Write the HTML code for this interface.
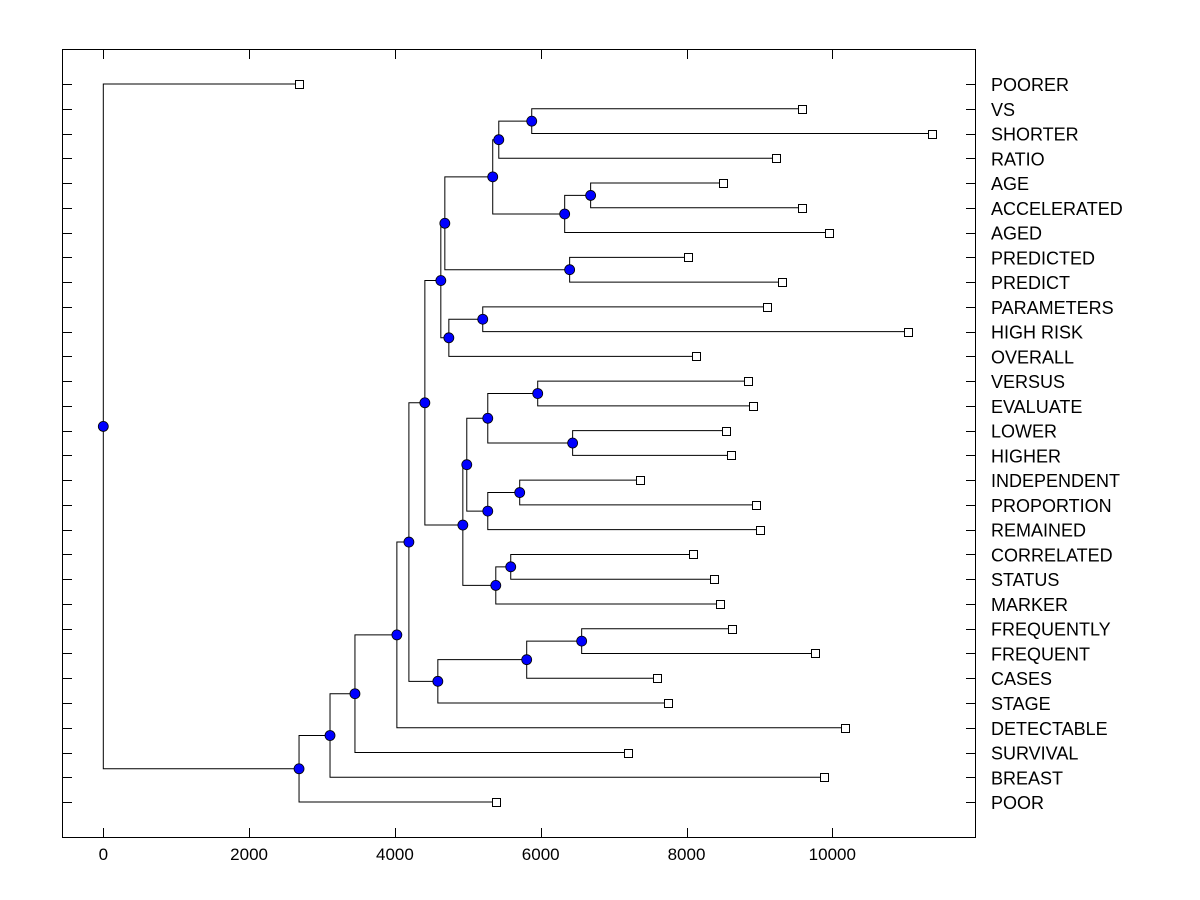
<!DOCTYPE html>
<html><head><meta charset="utf-8"><style>
html,body{margin:0;padding:0;background:#fff;width:1200px;height:900px;overflow:hidden}
svg text{font-family:"Liberation Sans",Arial,sans-serif;fill:#000}
.lab{font-size:18px}
.tk{font-size:17px}
</style></head><body>
<svg id="chart" width="1200" height="900" xmlns="http://www.w3.org/2000/svg">
<rect x="62.5" y="49.5" width="913" height="788" fill="none" stroke="#000" stroke-width="1"/>
<g id="g"></g>
</svg>
<script>
const leafNames=["POORER","VS","SHORTER","RATIO","AGE","ACCELERATED","AGED","PREDICTED","PREDICT","PARAMETERS","HIGH RISK","OVERALL","VERSUS","EVALUATE","LOWER","HIGHER","INDEPENDENT","PROPORTION","REMAINED","CORRELATED","STATUS","MARKER","FREQUENTLY","FREQUENT","CASES","STAGE","DETECTABLE","SURVIVAL","BREAST","POOR"];
const leafValues=[2685,9589,11370,9233,8507,9589,9959,8027,9315,9110,11041,8137,8849,8918,8548,8616,7356,8959,9014,8096,8384,8466,8630,9767,7589,7740,10178,7192,9890,5384];
const mergeIds=["N18","N16","N19","N17","N14","N15","N12","N20","N13","N10","N25","N26","N23","N27","N24","N21","N28","N22","N11","N6","N9","N8","N7","N5","N4","N3","N2","N1","root"];
const mergeHeights=[5877,5425,6685,6329,5342,6397,4685,5205,4740,4630,5959,6438,5274,5712,5274,4986,5589,5384,4932,4411,6562,5808,4589,4192,4027,3452,3110,2685,0];
const mergeA=["VS","N18","AGE","N19","N16","PREDICTED","N14","PARAMETERS","N20","N12","VERSUS","LOWER","N25","INDEPENDENT","N27","N23","CORRELATED","N28","N21","N10","FREQUENTLY","N9","N8","N6","N5","N4","N3","N2","POORER"];
const mergeB=["SHORTER","RATIO","ACCELERATED","AGED","N17","PREDICT","N15","HIGH RISK","OVERALL","N13","EVALUATE","HIGHER","N26","PROPORTION","REMAINED","N24","STATUS","MARKER","N22","N11","FREQUENT","CASES","STAGE","N7","DETECTABLE","SURVIVAL","BREAST","POOR","N1"];
const xTicks=[0,2000,4000,6000,8000,10000];

const NS="http://www.w3.org/2000/svg";
const g=document.getElementById("g");
const x=v=>103.3+v*0.0729;
const rowY=i=>84+i*24.76;
function mk(tag,attrs){const e=document.createElementNS(NS,tag);for(const k in attrs)e.setAttribute(k,attrs[k]);g.appendChild(e);return e;}
const pos={};
leafNames.forEach((n,i)=>{pos[n]={x:x(leafValues[i]),y:rowY(i),leaf:true};});
mergeIds.forEach((id,i)=>{
  const a=pos[mergeA[i]],b=pos[mergeB[i]],hx=x(mergeHeights[i]);
  pos[id]={x:hx,y:(a.y+b.y)/2,leaf:false};
  const p=mk("path",{d:`M${a.x},${a.y}H${hx}V${b.y}H${b.x}`,fill:"none",stroke:"#000","stroke-width":1});
  
  
});
leafNames.forEach((n,i)=>{
  const y=Math.round(rowY(i))+0.5;
  const t1=mk("line",{x1:62,x2:72,y1:y,y2:y,stroke:"#000"});
  
  
  const t2=mk("line",{x1:966,x2:975,y1:y,y2:y,stroke:"#000"});
  
  
  const t=mk("text",{x:991,y:rowY(i)+7,"class":"lab"});
  t.textContent=n;
  
  
});
xTicks.forEach(v=>{
  const xx=Math.round(x(v))+0.5;
  const a=mk("line",{x1:xx,x2:xx,y1:828,y2:837,stroke:"#000"});
  
  
  const b=mk("line",{x1:xx,x2:xx,y1:50,y2:59,stroke:"#000"});
  
  
  const t=mk("text",{x:x(v),y:860,"text-anchor":"middle","class":"tk"});
  t.textContent=String(v);
  
  
});
leafNames.forEach(n=>{
  const p=pos[n];
  const r=mk("rect",{x:Math.round(p.x)-3.5,y:Math.round(p.y)-3.5,width:8,height:8,fill:"#fff",stroke:"#000"});
  
  
});
mergeIds.forEach(id=>{
  const p=pos[id];
  const c=mk("circle",{cx:p.x,cy:p.y,r:5,fill:"#0000ff",stroke:"#000","stroke-width":0.8});
  
  
});
</script>
</body></html>
